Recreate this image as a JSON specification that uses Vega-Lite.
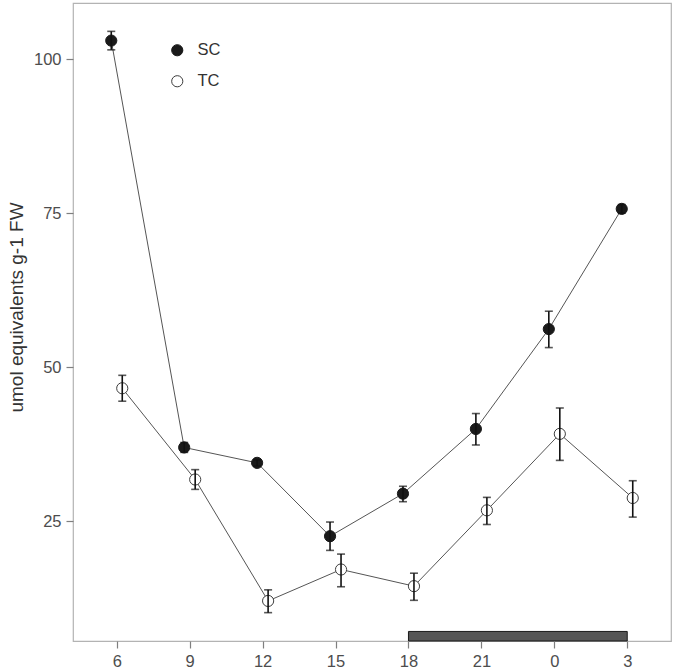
{
  "$schema": "https://vega.github.io/schema/vega-lite/v6.json",
  "autosize": "none",
  "width": 598,
  "height": 638,
  "padding": {"left": 73, "top": 3, "right": 4, "bottom": 30},
  "background": "white",
  "config": {
    "font": "Liberation Sans",
    "view": {"stroke": "#b3b3b3", "strokeWidth": 1.2},
    "axis": {
      "grid": false,
      "domain": false,
      "tickColor": "#7f7f7f",
      "tickSize": 7,
      "tickWidth": 1.2,
      "labelColor": "#4d4d4d",
      "labelFontSize": 16.5,
      "labelPadding": 5,
      "titleColor": "#333333",
      "titleFontWeight": "normal"
    }
  },
  "datasets": {
    "obs": [
      {"time": "6", "series": "SC", "mean": 103.0, "lo": 101.5, "hi": 104.5},
      {"time": "9", "series": "SC", "mean": 37.0, "lo": 36.2, "hi": 37.8},
      {"time": "12", "series": "SC", "mean": 34.5, "lo": 34.0, "hi": 35.0},
      {"time": "15", "series": "SC", "mean": 22.6, "lo": 20.3, "hi": 24.9},
      {"time": "18", "series": "SC", "mean": 29.5, "lo": 28.2, "hi": 30.7},
      {"time": "21", "series": "SC", "mean": 40.0, "lo": 37.4, "hi": 42.5},
      {"time": "0", "series": "SC", "mean": 56.2, "lo": 53.2, "hi": 59.1},
      {"time": "3", "series": "SC", "mean": 75.7, "lo": 75.0, "hi": 76.4},
      {"time": "6", "series": "TC", "mean": 46.6, "lo": 44.5, "hi": 48.7},
      {"time": "9", "series": "TC", "mean": 31.8, "lo": 30.2, "hi": 33.4},
      {"time": "12", "series": "TC", "mean": 12.1, "lo": 10.2, "hi": 13.9},
      {"time": "15", "series": "TC", "mean": 17.2, "lo": 14.4, "hi": 19.7},
      {"time": "18", "series": "TC", "mean": 14.5, "lo": 12.2, "hi": 16.6},
      {"time": "21", "series": "TC", "mean": 26.8, "lo": 24.5, "hi": 28.9},
      {"time": "0", "series": "TC", "mean": 39.2, "lo": 34.9, "hi": 43.4},
      {"time": "3", "series": "TC", "mean": 28.8, "lo": 25.7, "hi": 31.6}
    ],
    "night": [{"start": "18", "end": "3"}]
  },
  "layer": [
    {
      "data": {"name": "night"},
      "mark": {"type": "rect", "fill": "#555555", "stroke": "#1a1a1a", "strokeWidth": 1},
      "encoding": {
        "x": {"field": "start", "type": "ordinal",
          "sort": ["6", "9", "12", "15", "18", "21", "0", "3"],
          "scale": {"type": "point", "padding": 0.6, "domain": ["6", "9", "12", "15", "18", "21", "0", "3"]},
          "axis": {"title": null, "labelAngle": 0}},
        "x2": {"field": "end"},
        "y": {"datum": 5.6, "type": "quantitative"},
        "y2": {"datum": 7.15}
      }
    },
    {
      "data": {"name": "obs"},
      "mark": {"type": "line", "color": "#555555", "strokeWidth": 1},
      "encoding": {
        "x": {"field": "time", "type": "ordinal", "sort": ["6", "9", "12", "15", "18", "21", "0", "3"], "scale": {"type": "point"}},
        "xOffset": {"field": "series", "type": "nominal", "scale": {"type": "point", "range": [-5.5, 5.5], "padding": 0}},
        "y": {"field": "mean", "type": "quantitative"},
        "detail": {"field": "series"}
      }
    },
    {
      "data": {"name": "obs"},
      "mark": {"type": "point", "size": 125, "opacity": 1, "strokeWidth": 1},
      "encoding": {
        "x": {"field": "time", "type": "ordinal", "sort": ["6", "9", "12", "15", "18", "21", "0", "3"], "scale": {"type": "point"}},
        "xOffset": {"field": "series", "type": "nominal", "scale": {"type": "point", "range": [-5.5, 5.5], "padding": 0}},
        "y": {"field": "mean", "type": "quantitative"},
        "fill": {"field": "series", "type": "nominal", "scale": {"range": ["#1a1a1a", "#ffffff"]},
          "legend": {"title": null, "orient": "none", "legendX": 96, "legendY": 39, "padding": 0,
            "symbolSize": 125, "labelFontSize": 16.5, "labelColor": "#333333", "labelOffset": 12, "rowPadding": 14,
            "symbolStrokeWidth": 1}},
        "stroke": {"field": "series", "type": "nominal", "scale": {"range": ["#1a1a1a", "#3d3d3d"]}}
      }
    },
    {
      "data": {"name": "obs"},
      "mark": {"type": "rule", "color": "#111111", "strokeWidth": 1.6},
      "encoding": {
        "x": {"field": "time", "type": "ordinal", "sort": ["6", "9", "12", "15", "18", "21", "0", "3"], "scale": {"type": "point"}},
        "xOffset": {"field": "series", "type": "nominal", "scale": {"type": "point", "range": [-5.5, 5.5], "padding": 0}},
        "y": {"field": "lo", "type": "quantitative", "scale": {"domain": [5.6, 109.1], "nice": false, "zero": false},
          "axis": {"values": [25, 50, 75, 100], "title": "umol equivalents g-1 FW", "titleFontSize": 19,
            "titleX": -57, "titleY": 304, "titleBaseline": "middle"}},
        "y2": {"field": "hi"}
      }
    },
    {
      "data": {"name": "obs"},
      "mark": {"type": "tick", "orient": "horizontal", "color": "#111111", "size": 8, "thickness": 1.6},
      "encoding": {
        "x": {"field": "time", "type": "ordinal", "sort": ["6", "9", "12", "15", "18", "21", "0", "3"], "scale": {"type": "point"}},
        "xOffset": {"field": "series", "type": "nominal", "scale": {"type": "point", "range": [-5.5, 5.5], "padding": 0}},
        "y": {"field": "lo", "type": "quantitative"}
      }
    },
    {
      "data": {"name": "obs"},
      "mark": {"type": "tick", "orient": "horizontal", "color": "#111111", "size": 8, "thickness": 1.6},
      "encoding": {
        "x": {"field": "time", "type": "ordinal", "sort": ["6", "9", "12", "15", "18", "21", "0", "3"], "scale": {"type": "point"}},
        "xOffset": {"field": "series", "type": "nominal", "scale": {"type": "point", "range": [-5.5, 5.5], "padding": 0}},
        "y": {"field": "hi", "type": "quantitative"}
      }
    }
  ]
}
